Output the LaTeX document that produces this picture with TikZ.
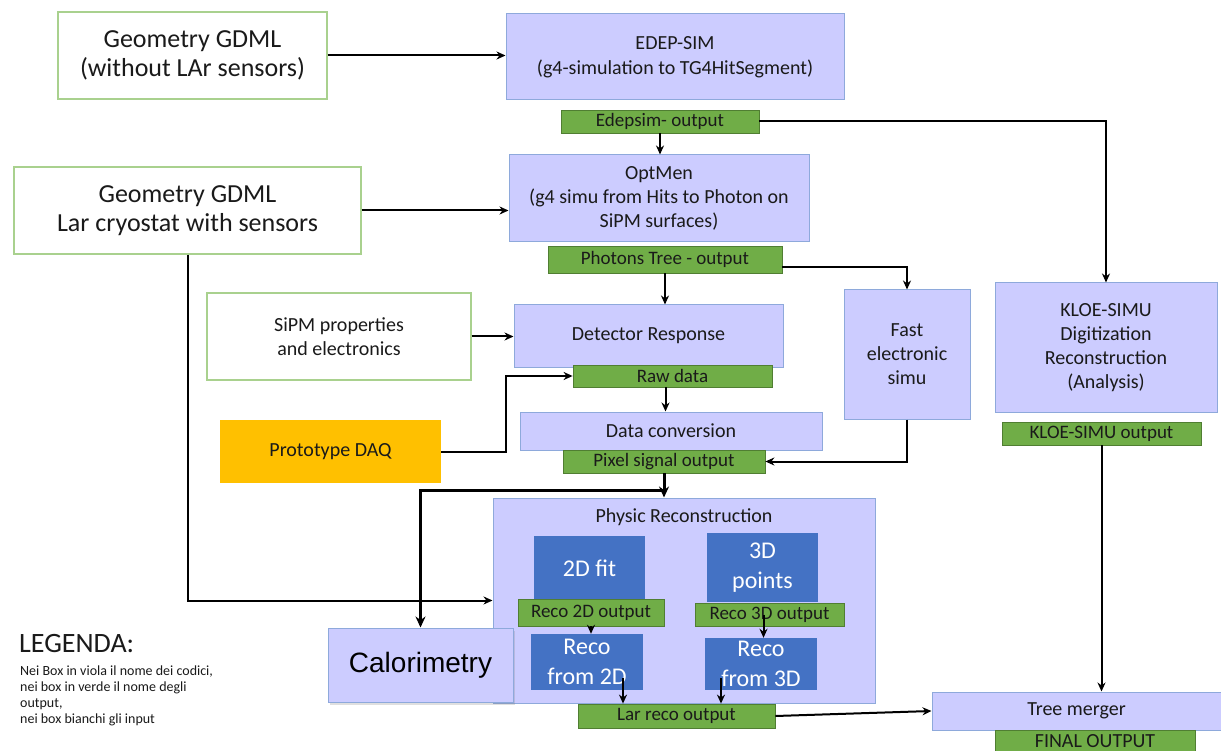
\documentclass[tikz,border=0pt]{standalone}
\usepackage{fontspec}
\setmainfont{Carlito}
\newfontfamily\arialf{Liberation Sans}
\usetikzlibrary{arrows.meta,shadows}
\definecolor{pfill}{HTML}{CCCCFF}
\definecolor{pborder}{HTML}{8EA9DB}
\definecolor{gfill}{HTML}{70AD47}
\definecolor{gborder}{HTML}{507E32}
\definecolor{dbfill}{HTML}{4472C4}
\definecolor{ofill}{HTML}{FFC000}
\definecolor{inborder}{HTML}{A9D18E}
\definecolor{txt}{HTML}{1A1A1A}
\tikzset{
  base/.style={inner sep=0pt, align=center, text=txt, font=\fontsize{20}{25}\selectfont},
  pbox/.style={base, fill=pfill, draw=pborder, line width=1pt},
  gbox/.style={base, fill=gfill, draw=gborder, line width=0.8pt, font=\fontsize{19}{22}\selectfont},
  inbox/.style={base, fill=white, draw=inborder, line width=1.1pt},
  dbox/.style={base, fill=dbfill, draw=none, text=white, font=\fontsize{24}{30}\selectfont},
  obox/.style={base, fill=ofill, draw=none},
  arr/.style={draw=black, line width=2pt, -{Stealth[length=9pt,width=8pt]}},
  arrthick/.style={draw=black, line width=3pt, -{Stealth[length=11pt,width=10pt]}},
}
\begin{document}
\begin{tikzpicture}[x=1pt,y=-1pt]
\clip (0,0) rectangle (1221,751);
\fill[white] (0,0) rectangle (1221,751);
% inputs
\node[inbox, minimum width=269pt, minimum height=87pt, font=\fontsize{26}{29}\selectfont] (geo1) at (192.5,55.5) {Geometry GDML\\(without LAr sensors)};
\node[inbox, minimum width=347pt, minimum height=87pt, font=\fontsize{26}{29}\selectfont] (geo2) at (187.5,210.5) {Geometry GDML\\Lar cryostat with sensors};
\node[inbox, minimum width=264pt, minimum height=87pt, font=\fontsize{20}{24}\selectfont] (sipm) at (339,336.5) {SiPM properties\\and electronics};
\node[obox, minimum width=221pt, minimum height=63pt] (daq) at (330.5,451.5) {Prototype DAQ};
% main chain
\node[pbox, minimum width=338pt, minimum height=86pt] (edep) at (675,57) {EDEP-SIM\\(g4-simulation to TG4HitSegment)};
\node[gbox, minimum width=198pt, minimum height=23pt] (edout) at (660,121.5) {Edepsim- output};
\node[pbox, minimum width=300pt, minimum height=87pt, font=\fontsize{20}{24}\selectfont] (optmen) at (659,198.5) {OptMen\\(g4 simu from Hits to Photon on\\SiPM surfaces)};
\node[gbox, minimum width=234pt, minimum height=27pt] (photons) at (665,259.5) {Photons Tree - output};
\node[pbox, minimum width=269pt, minimum height=62pt] (detresp) at (648.5,336) {Detector Response};
\node[gbox, minimum width=199pt, minimum height=22pt] (raw) at (672.5,376) {Raw data};
\node[pbox, minimum width=126pt, minimum height=129pt, font=\fontsize{20}{24}\selectfont] (fast) at (907,354.5) {Fast\\electronic\\simu};
\node[pbox, minimum width=222pt, minimum height=129pt, font=\fontsize{20}{24}\selectfont] (kloe) at (1106,347.5) {KLOE-SIMU\\Digitization\\Reconstruction\\(Analysis)};
\node[gbox, minimum width=199pt, minimum height=23pt] (kloeout) at (1101.5,433.5) {KLOE-SIMU output};
\node[pbox, minimum width=302pt, minimum height=38pt] (dataconv) at (671,431) {Data conversion};
\node[gbox, minimum width=202pt, minimum height=23pt] (pixel) at (664,461.5) {Pixel signal output};
% physic reconstruction
\node[pbox, minimum width=382pt, minimum height=205pt] (phys) at (684,600.5) {};
\node[base] (physlabel) at (684,517) {Physic Reconstruction};
\node[dbox, minimum width=111pt, minimum height=64pt] (fit2d) at (589.5,568) {2D fit};
\node[dbox, minimum width=111pt, minimum height=69pt] (pts3d) at (762.5,567.5) {3D\\points};
\node[gbox, minimum width=146pt, minimum height=27pt] (r2dout) at (591,612.5) {Reco 2D output};
\node[gbox, minimum width=149pt, minimum height=23pt] (r3dout) at (769.5,614.5) {Reco 3D output};
\node[dbox, minimum width=112pt, minimum height=56pt] (rf2d) at (587,662) {Reco\\from 2D};
\node[dbox, minimum width=112pt, minimum height=52pt] (rf3d) at (761,664) {Reco\\from 3D};
\node[pbox, minimum width=185pt, minimum height=74pt, text=black, font=\arialf\fontsize{28}{32}\selectfont, drop shadow={opacity=0.25, shadow xshift=2pt, shadow yshift=-3pt}] (calo) at (420.5,665) {Calorimetry};
\node[gbox, minimum width=197pt, minimum height=24pt] (larout) at (676.5,716) {Lar reco output};
\node[pbox, minimum width=289pt, minimum height=38pt] (tree) at (1076.5,711) {Tree merger};
\node[gbox, minimum width=200pt, minimum height=22pt, font=\fontsize{20}{22}\selectfont] (final) at (1095,741) {FINAL OUTPUT};
% legend
\node[base, anchor=north west, align=left, font=\fontsize{28}{30}\selectfont] (leg) at (19,634) {LEGENDA:};
\node[base, anchor=north west, align=left, font=\fontsize{14}{16}\selectfont] (legtext) at (20,666) {Nei Box in viola il nome dei codici,\\nei box in verde il nome degli\\output,\\nei box bianchi gli input};
% connectors
\draw[arr] (geo1.east) -- (geo1.east -| edep.west);
\draw[arr] (edout.south) -- (edout.south |- optmen.north);
\draw[arr] (edout.east) -| (kloe.north);
\draw[arr] (geo2.east) -- (geo2.east -| optmen.west);
\draw[arr] (photons.south) -- (photons.south |- detresp.north);
\draw[arr] ([yshift=-8pt]photons.east) -| (fast.north);
\draw[arr] (sipm.east) -- (sipm.east -| detresp.west);
\draw[arr] (daq.east) -- ++(65,0) |- (raw.west);
\draw[arr] ([xshift=-7pt]raw.south) -- ([xshift=-7pt]raw.south |- dataconv.north);
\draw[arr] (fast.south) |- (pixel.east);
\coordinate (junc) at (664,490);
\draw[arrthick] (pixel.south) -- (pixel.south |- phys.north);
\draw[arrthick] (junc) -| (calo.north);
\draw[arr] (geo2.south) |- (phys.west);
\draw[arr] (r2dout.south) -- (r2dout.south |- rf2d.north);
\draw[arr] ([xshift=-6pt]r3dout.center) -- ([xshift=-6pt]r3dout.center |- rf3d.north);
\draw[arr] ([xshift=36pt,yshift=12pt]rf2d.south) -- ([xshift=36pt]rf2d.south |- larout.north);
\draw[arr] ([xshift=-40pt,yshift=12pt]rf3d.south) -- ([xshift=-40pt]rf3d.south |- larout.north);
\draw[arr] (larout.east) -- (tree.west);
\draw[arr] (kloeout.south) -- (kloeout.south |- tree.north);
\end{tikzpicture}
\end{document}
